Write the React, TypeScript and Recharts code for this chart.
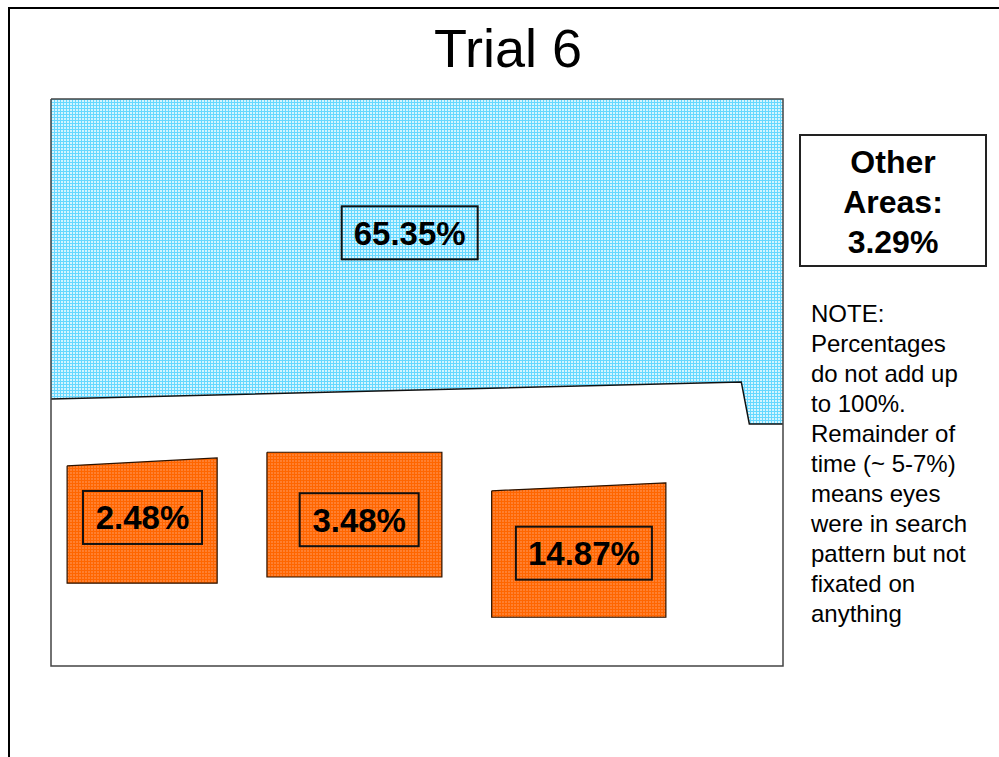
import { Area, ComposedChart, Line, Scatter, XAxis, YAxis } from "recharts";

// Areas of interest on the display, in % of screen width (x) and height (y from top)
const aoiRoad = [
  { x: 0, top: 0, bottom: 52.9 },
  { x: 94.3, top: 0, bottom: 49.9 },
  { x: 95.4, top: 0, bottom: 57.3 },
  { x: 100, top: 0, bottom: 57.3 }
];
const aoiLeft = [
  { x: 2.2, top: 64.7, bottom: 85.4 },
  { x: 22.7, top: 63.3, bottom: 85.4 }
];
const aoiMiddle = [
  { x: 29.5, top: 62.3, bottom: 84.3 },
  { x: 53.4, top: 62.3, bottom: 84.3 }
];
const aoiRight = [
  { x: 60.2, top: 69.1, bottom: 91.4 },
  { x: 84.0, top: 67.7, bottom: 91.4 }
];

const dwellLabels = ["65.35%", "2.48%", "3.48%", "14.87%"];
const dwellX = [49.0, 12.5, 42.1, 72.8];
const dwellY = [23.6, 73.8, 74.2, 80.1];

const otherAreas = "3.29%";
const title = "Trial 6";
const noteLines = [
  "NOTE:",
  "Percentages",
  "do not add up",
  "to 100%.",
  "Remainder of",
  "time (~ 5-7%)",
  "means eyes",
  "were in search",
  "pattern but not",
  "fixated on",
  "anything"
];

type Pt = { x: number; top: number; bottom: number };

const toRange = (s: Pt[]) => s.map((p) => ({ x: p.x, range: [p.top, p.bottom] }));
const outline = (s: Pt[]) => [
  ...s.map((p) => ({ x: p.x, y: p.top })),
  ...[...s].reverse().map((p) => ({ x: p.x, y: p.bottom })),
  { x: s[0].x, y: s[0].top }
];
const bottomEdge = (s: Pt[]) => s.map((p) => ({ x: p.x, y: p.bottom }));

const frame = [
  { x: 0, y: 0 },
  { x: 100, y: 0 },
  { x: 100, y: 100 },
  { x: 0, y: 100 },
  { x: 0, y: 0 }
];

const labelData = dwellLabels.map((label, i) => ({ x: dwellX[i], y: dwellY[i], label }));

const FONT = "'Liberation Sans', Arial, sans-serif";

const LabelBox = (props: any) => {
  const { cx, cy, payload } = props;
  const w = 17 * payload.label.length + 34;
  const h = 53;
  return (
    <g>
      <rect x={cx - w / 2} y={cy - h / 2} width={w} height={h} fill="none" stroke="#111" strokeWidth={2} />
      <text
        x={cx}
        y={cy + 12}
        textAnchor="middle"
        fontFamily={FONT}
        fontWeight="bold"
        fontSize={33}
        fill="#000"
      >
        {payload.label}
      </text>
    </g>
  );
};

const boxes = [aoiLeft, aoiMiddle, aoiRight];

export default function App() {
  return (
    <div style={{ position: "relative", width: 999, height: 757, background: "#fff", fontFamily: FONT }}>
      <style>{"html,body{margin:0;overflow:hidden}"}</style>
      <div
        style={{
          position: "absolute",
          left: 8,
          top: 7,
          right: 0,
          bottom: 0,
          borderTop: "2px solid #000",
          borderLeft: "2px solid #000"
        }}
      />
      <div
        style={{
          position: "absolute",
          left: 308,
          top: 21,
          width: 400,
          textAlign: "center",
          fontSize: 54,
          lineHeight: "54px",
          color: "#000"
        }}
      >
        {title}
      </div>
      <div style={{ position: "absolute", left: 0, top: 0 }}>
        <ComposedChart width={999} height={757} margin={{ top: 99, right: 216, bottom: 91, left: 51 }}>
          <defs>
            <pattern id="blueMesh" width="3" height="3" patternUnits="userSpaceOnUse">
              <rect width="3" height="3" fill="#d4f5ff" />
              <rect width="3" height="1" fill="#66d8ff" />
              <rect width="1" height="3" fill="#66d8ff" />
            </pattern>
            <pattern id="orangeMesh" width="3" height="3" patternUnits="userSpaceOnUse">
              <rect width="3" height="3" fill="#ff8030" />
              <rect width="3" height="1" fill="#ff6600" />
              <rect width="1" height="3" fill="#ff6600" />
            </pattern>
          </defs>
          <XAxis dataKey="x" type="number" domain={[0, 100]} hide />
          <YAxis type="number" domain={[0, 100]} reversed hide />
          <Area
            data={toRange(aoiRoad)}
            dataKey="range"
            type="linear"
            fill="url(#blueMesh)"
            fillOpacity={1}
            stroke="none"
            isAnimationActive={false}
            activeDot={false}
          />
          <Line
            data={bottomEdge(aoiRoad)}
            dataKey="y"
            type="linear"
            stroke="#111"
            strokeWidth={1.5}
            dot={false}
            activeDot={false}
            isAnimationActive={false}
          />
          {boxes.map((b, i) => (
            <Area
              key={`a${i}`}
              data={toRange(b)}
              dataKey="range"
              type="linear"
              fill="url(#orangeMesh)"
              fillOpacity={1}
              stroke="none"
              isAnimationActive={false}
              activeDot={false}
            />
          ))}
          {boxes.map((b, i) => (
            <Line
              key={`l${i}`}
              data={outline(b)}
              dataKey="y"
              type="linear"
              stroke="#2a1200"
              strokeWidth={1.2}
              dot={false}
              activeDot={false}
              isAnimationActive={false}
            />
          ))}
          <Line
            data={frame}
            dataKey="y"
            type="linear"
            stroke="#444"
            strokeWidth={1.5}
            dot={false}
            activeDot={false}
            isAnimationActive={false}
          />
          <Scatter data={labelData} dataKey="y" shape={<LabelBox />} isAnimationActive={false} />
        </ComposedChart>
      </div>
      <div
        style={{
          position: "absolute",
          left: 799,
          top: 134,
          width: 188,
          height: 133,
          boxSizing: "border-box",
          border: "2px solid #222",
          paddingTop: 6,
          textAlign: "center",
          fontSize: 32,
          fontWeight: "bold",
          lineHeight: "40px",
          color: "#000"
        }}
      >
        Other
        <br />
        Areas:
        <br />
        {otherAreas}
      </div>
      <div
        style={{
          position: "absolute",
          left: 811,
          top: 299,
          fontSize: 24,
          lineHeight: "30px",
          color: "#000",
          whiteSpace: "nowrap"
        }}
      >
        {noteLines.map((l) => (
          <div key={l}>{l}</div>
        ))}
      </div>
    </div>
  );
}
